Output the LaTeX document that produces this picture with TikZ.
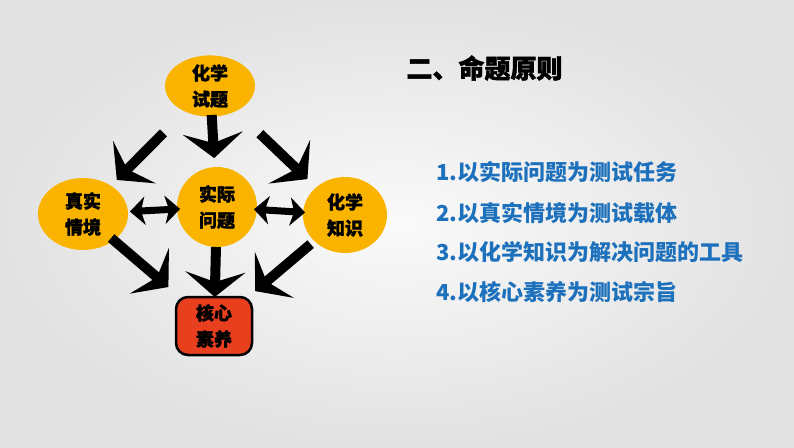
\documentclass[tikz,border=0pt]{standalone}
\usepackage{fontspec}
\newfontfamily\cjk{Noto Sans CJK SC}
\newfontfamily\cjkheavy{Noto Sans CJK SC}[FakeBold=1.5]
\usetikzlibrary{arrows.meta,shapes.geometric}
\definecolor{bggray}{RGB}{226,226,226}
\definecolor{goldfill}{RGB}{250,180,0}
\definecolor{corered}{RGB}{232,64,30}
\definecolor{lineblue}{RGB}{28,112,188}
\tikzset{
  blob/.style={ellipse, fill=goldfill, inner sep=0pt, align=center,
    font=\cjkheavy\bfseries\fontsize{18}{26}\selectfont},
  bigarrow/.style={line width=10pt, -{Stealth[length=25pt,width=60pt,inset=10pt]}},
  twoway/.style={line width=7pt, {Stealth[length=15pt,width=28pt,inset=4pt]}-{Stealth[length=15pt,width=28pt,inset=4pt]}},
  rule/.style={anchor=west, text=lineblue, font=\cjk\bfseries\fontsize{22}{26}\selectfont}
}
\begin{document}
\begin{tikzpicture}[x=1pt,y=-1pt]
			%%%%% START %%%%%
			
			\shade[inner color=white!96!gray, outer color=bggray] (0,0) rectangle (794,447);
			\useasboundingbox (0,0) rectangle (794,447);
			
			\node[blob, minimum width=90pt, minimum height=54pt] (shiti) at (210,86) {化学\\试题};
			\node[blob, minimum width=90pt, minimum height=72pt] (qingjing) at (83,214) {真实\\情境};
			\node[blob, minimum width=80pt, minimum height=80pt] (wenti) at (217,207) {实际\\问题};
			\node[blob, minimum width=84pt, minimum height=76pt] (zhishi) at (345,215) {化学\\知识};
			\node[draw=black, line width=2.5pt, fill=corered, rounded corners=12pt,
			  minimum width=76pt, minimum height=58pt, align=center,
			  font=\cjkheavy\bfseries\fontsize{18}{26}\selectfont] (suyang) at (214,326) {核心\\素养};
			
			\draw[bigarrow, shorten <=29pt, shorten >=49pt] (shiti.center) -- (wenti.center);
			\draw[bigarrow, shorten <=66pt, shorten >=48pt] (shiti.center) -- (qingjing.center);
			\draw[bigarrow, shorten <=69pt, shorten >=52pt] (shiti.center) -- (zhishi.center);
			
			\draw[twoway, shorten <=47pt, shorten >=37pt] (qingjing.center) -- (wenti.center);
			\draw[twoway, shorten <=37pt, shorten >=40pt] (wenti.center) -- (zhishi.center);
			
			\draw[bigarrow, shorten <=37pt, shorten >=60pt] (qingjing.center) -- (suyang.center);
			\draw[bigarrow, shorten <=40pt, shorten >=29pt] (wenti.center) -- (suyang.center);
			\draw[bigarrow, shorten <=45pt, shorten >=54pt] (zhishi.center) -- (suyang.center);
			
			\node[anchor=west, font=\cjkheavy\bfseries\fontsize{26}{30}\selectfont] (title) at (403,68) {二、命题原则};
			\node[rule] (r1) at (433,172) {1.以实际问题为测试任务};
			\node[rule] (r2) at (433,213) {2.以真实情境为测试载体};
			\node[rule] (r3) at (433,252) {3.以化学知识为解决问题的工具};
			\node[rule] (r4) at (433,292) {4.以核心素养为测试宗旨};
			
			%%%%% END %%%%%
\end{tikzpicture}
\end{document}
